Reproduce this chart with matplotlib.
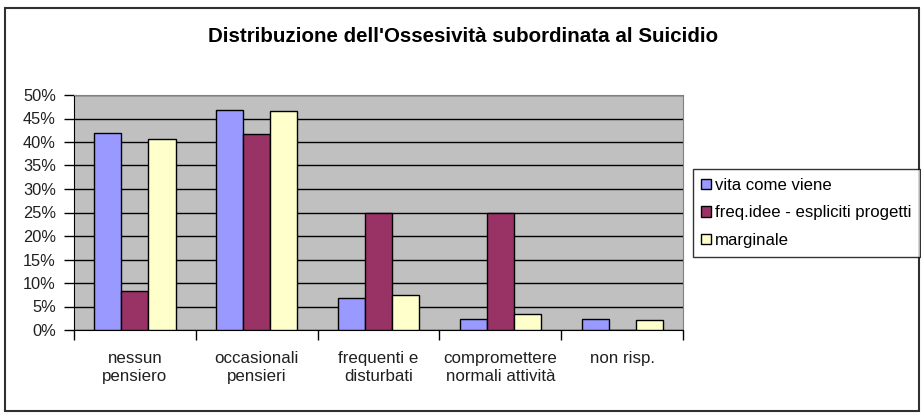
import numpy as np
import matplotlib.pyplot as plt
from matplotlib.patches import Rectangle
from matplotlib.ticker import FuncFormatter, FixedLocator

plt.rcParams['font.family'] = ['Liberation Sans', 'DejaVu Sans']

categories = ['nessun\npensiero', 'occasionali\npensieri', 'frequenti e\ndisturbati',
              'compromettere\nnormali attività', 'non risp.']
series_names = ['vita come viene', 'freq.idee - espliciti progetti', 'marginale']
vita = [42.0, 46.8, 6.8, 2.4, 2.4]
freq_idee = [8.33, 41.67, 25.0, 25.0, 0.0]
marginale = [40.7, 46.5, 7.4, 3.4, 2.1]
colors = ['#9999FF', '#993366', '#FFFFCC']

W, H = 921, 416
fig = plt.figure(figsize=(W / 100, H / 100), dpi=100)

# outer chart border
fig.patches.append(Rectangle((5 / W, 1 - 411 / H), 914 / W, 403 / H, transform=fig.transFigure,
                             fill=False, edgecolor='#303030', linewidth=1.5))

ax = fig.add_axes([74 / W, 1 - 330 / H, 609 / W, 235 / H])
ax.set_facecolor('#C0C0C0')

x = np.arange(len(categories))
w = 1 / 4.5
for i, (vals, col, name) in enumerate(zip([vita, freq_idee, marginale], colors, series_names)):
    ax.bar(x + (i - 1) * w, np.array(vals) / 100, width=w, color=col, edgecolor='black',
           linewidth=1, label=name, zorder=3)

ax.set_xlim(-0.5, len(categories) - 0.5)
ax.set_ylim(0, 0.5)
ax.set_yticks(np.arange(0, 0.51, 0.05))
ax.yaxis.set_major_formatter(FuncFormatter(lambda v, p: f'{v * 100:.0f}%'))
ax.yaxis.grid(True, color='black', linewidth=1)
ax.set_axisbelow(True)
ax.tick_params(axis='y', direction='out', length=7, width=1, pad=6, labelsize=11.8, labelcolor='#202020')

ax.set_xticks(x)
ax.set_xticklabels(categories, fontsize=12.2, color='#202020', linespacing=1.3)
ax.tick_params(axis='x', which='major', length=0, pad=15)
ax.xaxis.set_minor_locator(FixedLocator(np.arange(-0.5, len(categories), 1)))
ax.tick_params(axis='x', which='minor', direction='out', length=7, width=1)

for s in ['top', 'right']:
    ax.spines[s].set_color('#808080')
for s in ['left', 'bottom']:
    ax.spines[s].set_color('black')

fig.text(463 / W, 1 - 37 / H, "Distribuzione dell'Ossesività subordinata al Suicidio",
         ha='center', va='center', fontsize=14.8, fontweight='bold')

leg = fig.legend(loc='center left', bbox_to_anchor=(693 / W, 1 - 213 / H), fontsize=12.1,
                 frameon=True, fancybox=False, handlelength=0.6, handleheight=0.55,
                 handletextpad=0.2, labelspacing=0.75, borderpad=0.5, borderaxespad=0)
leg.get_frame().set_edgecolor('black')
leg.get_frame().set_linewidth(1)

fig.savefig('out.png', dpi=100)
